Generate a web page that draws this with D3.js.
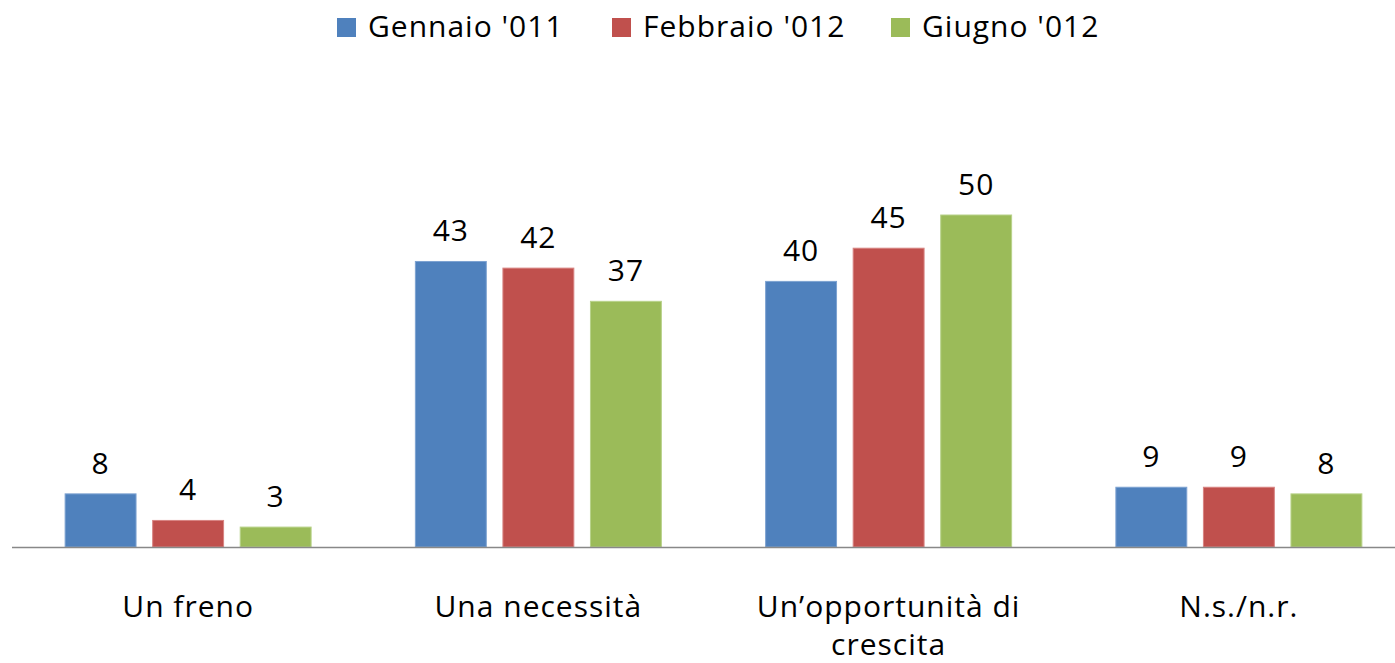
<!DOCTYPE html>
<html>
<head>
<meta charset="utf-8">
<script src="https://cdn.jsdelivr.net/npm/d3@7"></script>
<style>
  body { margin: 0; background: #fff; }
  text { font-family: "Open Sans", sans-serif; fill: #000; letter-spacing: 1px; }
</style>
</head>
<body>
<div id="chart"></div>
<script>
var categories = [["Un freno"], ["Una necessità"], ["Un’opportunità di", "crescita"], ["N.s./n.r."]];
var series = ["Gennaio '011", "Febbraio '012", "Giugno '012"];
var colors = ["#4f81bd", "#c0504d", "#9bbb59"];
var strokes = ["#7da2d1", "#d88482", "#b8d28a"];
var gennaio = [8, 43, 40, 9];
var febbraio = [4, 42, 45, 9];
var giugno = [3, 37, 50, 8];
var values = [gennaio, febbraio, giugno];

var width = 1395;
var height = 663;
var baseY = 547;
var fontSize = "30px";
var svg = d3.select("#chart").append("svg")
  .attr("width", width).attr("height", height);

var x = d3.scaleBand().domain(d3.range(categories.length)).range([13, 1414]).paddingInner(0).paddingOuter(0);
var inner = d3.scaleBand().domain(d3.range(series.length)).range([-123, 123]).paddingInner(0.19);
var y = d3.scaleLinear().domain([0, 50]).range([baseY, 215]);

// bars and labels
series.forEach(function(s, si) {
  var g = svg.append("g");
  g.selectAll("rect").data(values[si]).enter().append("rect")
    .attr("x", function(d, i) { return x(i) + x.bandwidth() / 2 + inner(si); })
    .attr("y", function(d) { return y(d); })
    .attr("width", inner.bandwidth())
    .attr("height", function(d) { return baseY - y(d); })
    .style("fill", colors[si])
    .style("stroke", strokes[si])
    .style("stroke-width", 1);
  g.selectAll("text").data(values[si]).enter().append("text")
    .attr("x", function(d, i) { return x(i) + x.bandwidth() / 2 + inner(si) + inner.bandwidth() / 2; })
    .attr("y", function(d) { return y(d) - 20; })
    .attr("text-anchor", "middle")
    .style("font-size", fontSize)
    .text(function(d) { return d; });
});

// axis line
svg.append("line")
  .attr("x1", 12).attr("x2", width)
  .attr("y1", baseY + 0.5).attr("y2", baseY + 0.5)
  .style("stroke", "#888").style("stroke-width", 1.5);

// category labels
categories.forEach(function(lines, i) {
  var t = svg.append("text")
    .attr("x", x(i) + x.bandwidth() / 2)
    .attr("y", 617)
    .attr("text-anchor", "middle")
    .style("font-size", fontSize);
  lines.forEach(function(l, li) {
    t.append("tspan").attr("x", x(i) + x.bandwidth() / 2).attr("dy", li ? 38 : 0).text(l);
  });
});

// legend
var legendX = [337, 612, 891];
series.forEach(function(s, si) {
  svg.append("rect")
    .attr("x", legendX[si]).attr("y", 18)
    .attr("width", 19).attr("height", 19)
    .style("fill", colors[si]);
  svg.append("text")
    .attr("x", legendX[si] + 31).attr("y", 37)
    .style("font-size", fontSize)
    .text(s);
});
</script>
</body>
</html>
